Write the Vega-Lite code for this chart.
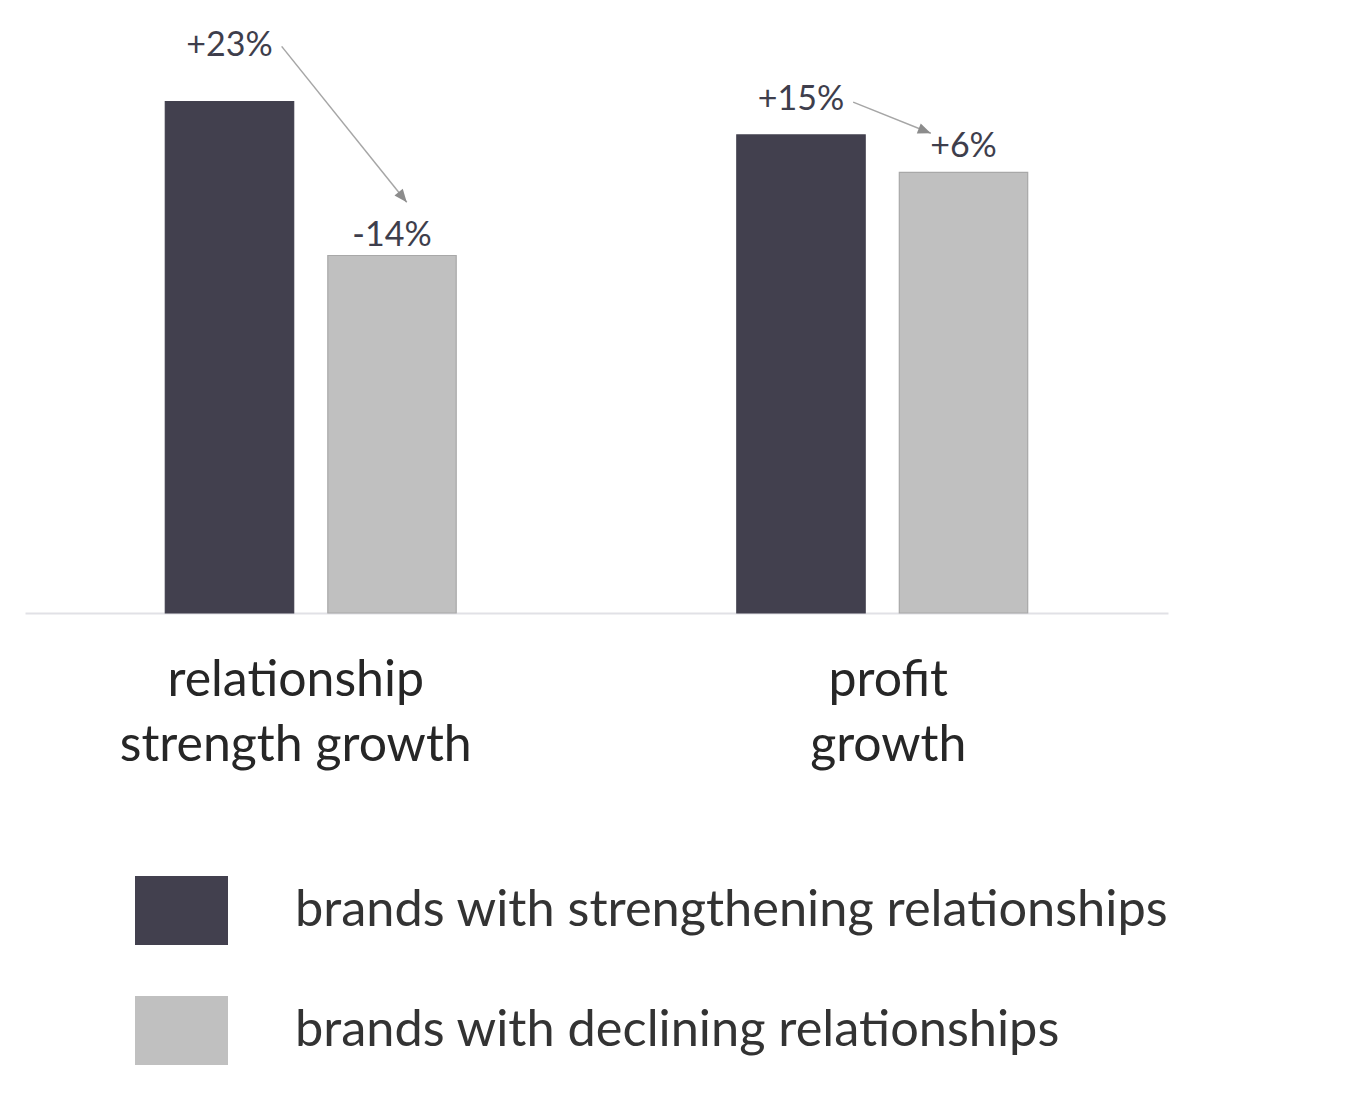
{
  "$schema": "https://vega.github.io/schema/vega-lite/v6.json",
  "autosize": {"type": "none"},
  "width": 1143,
  "height": 582,
  "padding": {"left": 25, "top": 31, "right": 197, "bottom": 487},
  "background": "white",
  "config": {"view": {"stroke": null}, "font": "Lato"},
  "datasets": {
    "bars": [
      {"cat": "relationship|strength growth", "series": "brands with strengthening relationships", "value": 123, "label": "+23%", "labelPos": 136.5},
      {"cat": "relationship|strength growth", "series": "brands with declining relationships", "value": 86, "label": "-14%", "labelPos": 90.8},
      {"cat": "profit|growth", "series": "brands with strengthening relationships", "value": 115, "label": "+15%", "labelPos": 123.3},
      {"cat": "profit|growth", "series": "brands with declining relationships", "value": 106, "label": "+6%", "labelPos": 112.2}
    ],
    "arrows": [
      {"cat": "relationship|strength growth", "from": 136.3, "to": 98.8},
      {"cat": "profit|growth", "from": 122.9, "to": 115.4}
    ]
  },
  "layer": [
    {
      "data": {"name": "bars"},
      "mark": {"type": "bar", "strokeWidth": 1.2},
      "encoding": {
        "x": {
          "field": "cat", "type": "nominal", "sort": null,
          "scale": {"paddingInner": 0.491, "paddingOuter": 0.2455},
          "axis": {
            "title": null,
            "labelExpr": "split(datum.label, '|')",
            "labelAngle": 0,
            "labelFontSize": 50,
            "labelColor": "#262626",
            "labelPadding": 42,
            "labelLineHeight": 65,
            "labelLimit": 800,
            "labelOffset": {"condition": {"test": "datum.value === 'relationship|strength growth'", "value": -15}, "value": 6},
            "ticks": false,
            "domainColor": "#e1e1e6",
            "domainWidth": 2,
            "grid": false
          }
        },
        "xOffset": {
          "field": "series", "type": "nominal", "sort": null,
          "scale": {"paddingInner": 0.21, "paddingOuter": 0}
        },
        "y": {
          "field": "value", "type": "quantitative",
          "scale": {"domain": [0, 140], "nice": false},
          "axis": null
        },
        "fill": {
          "field": "series", "type": "nominal", "sort": null,
          "scale": {"domain": ["brands with strengthening relationships", "brands with declining relationships"], "range": ["#42404e", "#c0c0c0"]},
          "legend": {
            "title": null,
            "orient": "none",
            "legendX": 110,
            "legendY": 833,
            "padding": 0,
            "symbolType": "M-1,-0.742L1,-0.742L1,0.742L-1,0.742Z",
            "symbolSize": 8649,
            "symbolStrokeWidth": 0,
            "symbolOpacity": 1,
            "rowPadding": 38,
            "labelOffset": 67,
            "labelFontSize": 50.5,
            "labelColor": "#333333",
            "labelLimit": 1200
          }
        },
        "stroke": {
          "field": "series", "type": "nominal", "sort": null,
          "scale": {"domain": ["brands with strengthening relationships", "brands with declining relationships"], "range": ["#42404e", "#a8a8a8"]},
          "legend": null
        }
      }
    },
    {
      "data": {"name": "bars"},
      "mark": {"type": "text", "fontSize": 34, "color": "#3e3e4c", "baseline": "middle", "align": "center"},
      "encoding": {
        "x": {"field": "cat", "type": "nominal", "sort": null},
        "xOffset": {"field": "series", "type": "nominal", "sort": null},
        "y": {"field": "labelPos", "type": "quantitative"},
        "text": {"field": "label"}
      }
    },
    {
      "data": {"name": "arrows"},
      "transform": [{"filter": "datum.cat === 'relationship|strength growth'"}],
      "mark": {"type": "rule", "color": "#a6a6a6", "strokeWidth": 1.5},
      "encoding": {
        "x": {"field": "cat", "type": "nominal", "sort": null, "bandPosition": 0.4},
        "x2": {"field": "cat", "bandPosition": 0.83},
        "y": {"field": "from", "type": "quantitative"},
        "y2": {"field": "to"}
      }
    },
    {
      "data": {"name": "arrows"},
      "transform": [{"filter": "datum.cat === 'profit|growth'"}],
      "mark": {"type": "rule", "color": "#a6a6a6", "strokeWidth": 1.5},
      "encoding": {
        "x": {"field": "cat", "type": "nominal", "sort": null, "bandPosition": 0.4},
        "x2": {"field": "cat", "bandPosition": 0.667},
        "y": {"field": "from", "type": "quantitative"},
        "y2": {"field": "to"}
      }
    },
    {
      "data": {"name": "arrows"},
      "transform": [{"filter": "datum.cat === 'relationship|strength growth'"}],
      "mark": {"type": "point", "shape": "M0,0L-0.45,1.1L0.45,1.1Z", "size": 557, "filled": true, "color": "#8c8c8c", "opacity": 1, "angle": 141.3},
      "encoding": {
        "x": {"field": "cat", "type": "nominal", "sort": null, "bandPosition": 0.83},
        "y": {"field": "to", "type": "quantitative"}
      }
    },
    {
      "data": {"name": "arrows"},
      "transform": [{"filter": "datum.cat === 'profit|growth'"}],
      "mark": {"type": "point", "shape": "M0,0L-0.45,1.1L0.45,1.1Z", "size": 557, "filled": true, "color": "#8c8c8c", "opacity": 1, "angle": 111.7},
      "encoding": {
        "x": {"field": "cat", "type": "nominal", "sort": null, "bandPosition": 0.667},
        "y": {"field": "to", "type": "quantitative"}
      }
    }
  ]
}
